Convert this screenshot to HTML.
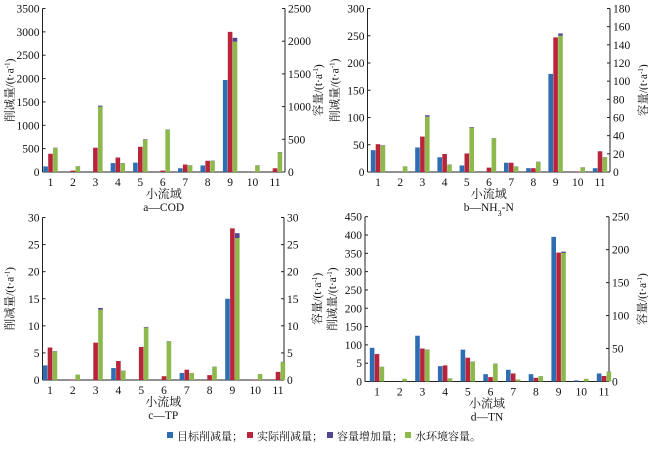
<!DOCTYPE html>
<html><head><meta charset="utf-8"><style>
body{margin:0;background:#fff;width:648px;height:447px;overflow:hidden}
svg text{font-family:"Liberation Serif","Noto Serif CJK SC",serif;fill:#111}
</style></head><body>
<svg id="chart" width="648" height="447" xmlns="http://www.w3.org/2000/svg"></svg>
<script>
const categories=["1","2","3","4","5","6","7","8","9","10","11"];
const codTarget=[120,0,0,190,200,0,80,140,1970,0,0];
const codActual=[390,30,520,310,540,30,160,240,3000,5,80];
const codCapacity=[366,86,1000,132,493,645,100,168,1992,100,300];
const codIncrease=[5,3,15,5,8,5,3,5,60,3,5];
const nhTarget=[40,0,45,27,12,0,17,7,180,0,7];
const nhActual=[51,0,65,33,34,8,17,7,247,1,38];
const nhCapacity=[29,6,61,8,49,37,6,11,150,5,16];
const nhIncrease=[0.5,0.2,1.5,0.3,0.5,0.3,0.2,0.3,2.5,0.2,0.3];
const tpTarget=[2.7,0,0,2.2,0,0,1.3,0,15,0,0];
const tpActual=[6,0.1,6.9,3.5,6.1,0.7,1.9,0.9,28,0.1,1.5];
const tpCapacity=[5.3,1,13,1.7,9.7,7.1,1.3,2.4,26.2,1.1,3.3];
const tpIncrease=[0.05,0,0.3,0.05,0.1,0.05,0,0.05,0.9,0,0.05];
const tnTarget=[92,0,125,42,87,20,32,20,395,3,22];
const tnActual=[75,0,90,44,65,12,22,10,352,0,15];
const tnCapacity=[22,4,48,4.5,30,27,3,8,195,4,15];
const tnIncrease=[0.3,0.1,0.5,0.2,0.4,0.3,0.1,0.2,2,0.1,0.2];
const codLeftTicks=["0","500","1000","1500","2000","2500","3000","3500"];
const codRightTicks=["0","500","1000","1500","2000","2500"];
const nhLeftTicks=["0","50","100","150","200","250","300"];
const nhRightTicks=["0","20","40","60","80","100","120","140","160","180"];
const tpLeftTicks=["0","5","10","15","20","25","30"];
const tpRightTicks=["0","5","10","15","20","25","30"];
const tnLeftTicks=["0","5","100","150","200","250","300","350","400","450"];
const tnRightTicks=["0","50","100","150","200","250"];

const svg=document.getElementById('chart');
const NS="http://www.w3.org/2000/svg";
function mk(tag,attrs,parent){const e=document.createElementNS(NS,tag);for(const k in attrs)e.setAttribute(k,attrs[k]);(parent||svg).appendChild(e);return e;}
const COL={blue:"#2f6db3",red:"#b8243a",green:"#8cb84c",purple:"#54458f"};

function panel(p){
  const g=mk('g',{});
  
  
  const yL=v=>p.y0-(v/p.lMax)*(p.y0-p.y1);
  const yR=v=>p.y0-(v/p.rMax)*(p.y0-p.y1);
  const xC=i=>p.c1+i*(p.c11-p.c1)/(categories.length-1);
  const la=mk('line',{x1:p.xl,y1:p.y1,x2:p.xl,y2:p.y0,stroke:"#222","stroke-width":1},g);
  
  const ra=mk('line',{x1:p.xr,y1:p.y1,x2:p.xr,y2:p.y0,stroke:"#222","stroke-width":1},g);
  
  mk('line',{x1:p.xl,y1:p.y0,x2:p.xr,y2:p.y0,stroke:"#222","stroke-width":1},g);
  p.lt.forEach((t,i)=>{const v=i*p.lMax/(p.lt.length-1);const y=yL(v);
    mk('line',{x1:p.xl,y1:y,x2:p.xl+3,y2:y,stroke:"#222"},g);
    const tx=mk('text',{x:p.xl-3,y:y+4,"font-size":11.5,"text-anchor":"end"},g);tx.textContent=t;
    });
  p.rt.forEach((t,i)=>{const v=i*p.rMax/(p.rt.length-1);const y=yR(v);
    mk('line',{x1:p.xr-3,y1:y,x2:p.xr,y2:y,stroke:"#222"},g);
    const tx=mk('text',{x:p.xr+3,y:y+4,"font-size":11.5},g);tx.textContent=t;
    });
  categories.forEach((c,i)=>{const x=xC(i);
    const tx=mk('text',{x:x,y:p.y0+14,"font-size":11.5,"text-anchor":"middle"},g);tx.textContent=c;
    
    const w=4.6;
    const b=mk('rect',{x:x-7.2,y:yL(p.t[i]),width:w,height:p.y0-yL(p.t[i]),fill:COL.blue},g);
    
    const r=mk('rect',{x:x-2.3,y:yL(p.a[i]),width:w,height:p.y0-yL(p.a[i]),fill:COL.red},g);
    
    const gr=mk('rect',{x:x+2.6,y:yR(p.c[i]),width:w,height:p.y0-yR(p.c[i]),fill:COL.green},g);
    
    const pu=mk('rect',{x:x+2.6,y:yR(p.c[i]+p.inc[i]),width:w,height:yR(p.c[i])-yR(p.c[i]+p.inc[i]),fill:COL.purple},g);
    
  });
  const mid=(p.xl+p.xr)/2;
  const xt=mk('text',{x:mid,y:p.y0+26,"font-size":12,"text-anchor":"middle"},g);xt.textContent="小流域";
  
  const st=mk('text',{x:mid,y:p.y0+39,"font-size":11.5,"text-anchor":"middle"},g);st.innerHTML=p.sub;
  
  const cy=(p.y0+p.y1)/2;
  const lt=mk('text',{x:0,y:0,"font-size":11.5,"text-anchor":"middle",transform:`translate(${p.xl-29},${cy}) rotate(-90)`},g);
  lt.innerHTML='削减量/(t·a<tspan baseline-shift="super" font-size="7">-1</tspan>)';
  
  const rtt=mk('text',{x:0,y:0,"font-size":11.5,"text-anchor":"middle",transform:`translate(${p.xr+37},${cy}) rotate(-90)`},g);
  rtt.innerHTML='容量/(t·a<tspan baseline-shift="super" font-size="7">-1</tspan>)';
  
}
panel({name:'panel-cod',xl:42.5,xr:285,y0:172,y1:8.5,c1:50.5,c11:275,lMax:3500,rMax:2500,lt:codLeftTicks,rt:codRightTicks,t:codTarget,a:codActual,c:codCapacity,inc:codIncrease,sub:'a—COD'});
panel({name:'panel-nh3n',xl:367.5,xr:610,y0:172,y1:8.5,c1:378,c11:600,lMax:300,rMax:180,lt:nhLeftTicks,rt:nhRightTicks,t:nhTarget,a:nhActual,c:nhCapacity,inc:nhIncrease,sub:'b—NH<tspan baseline-shift="sub" font-size="8">3</tspan>-N'});
panel({name:'panel-tp',xl:42.5,xr:284,y0:380,y1:217.5,c1:50,c11:278,lMax:30,rMax:30,lt:tpLeftTicks,rt:tpRightTicks,t:tpTarget,a:tpActual,c:tpCapacity,inc:tpIncrease,sub:'c—TP'});
panel({name:'panel-tn',xl:365,xr:609,y0:381.5,y1:216.7,c1:377,c11:604,lMax:450,rMax:250,lt:tnLeftTicks,rt:tnRightTicks,t:tnTarget,a:tnActual,c:tnCapacity,inc:tnIncrease,sub:'d—TN'});

const leg=mk('g',{});


const items=[["目标削减量；",COL.blue,167],["实际削减量；",COL.red,247],["容量增加量；",COL.purple,327],["水环境容量。",COL.green,405]];
items.forEach(it=>{
  const r=mk('rect',{x:it[2],y:432,width:6,height:6,fill:it[1]},leg);
  
  const t=mk('text',{x:it[2]+10,y:440,"font-size":11},leg);t.textContent=it[0];
  
});
</script>
</body></html>
